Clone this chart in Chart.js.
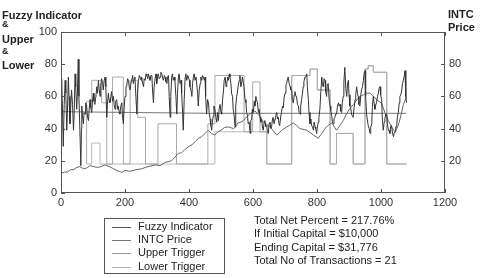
<!DOCTYPE html>
<html>
<head>
<meta charset="utf-8">
<script src="https://cdn.jsdelivr.net/npm/chart.js@4"></script>
<style>
  body { margin: 0; background: #fff; }
  #wrap { position: relative; width: 480px; height: 278px; font-family: "Liberation Sans", Arial, sans-serif; color: #222; }
  #wrap canvas { position: absolute; left: 0; top: 0; }
  .t { position: absolute; font-size: 11px; line-height: 13px; white-space: nowrap; }
  .b { font-weight: bold; }
  .amp { font-size: 9px; line-height: 10px; font-weight: bold; }
  #legend { position: absolute; left: 104px; top: 218px; width: 119px; height: 54px; border: 1px solid #555; }
  .sw { position: absolute; height: 0; width: 19px; border-top: 1px solid #777; }
</style>
</head>
<body>
<div id="wrap">
  <canvas id="c" width="480" height="278"></canvas>
  <div class="t b" style="left:2px;top:9px">Fuzzy Indicator</div>
  <div class="t amp" style="left:2px;top:19px">&amp;</div>
  <div class="t b" style="left:2px;top:33px">Upper</div>
  <div class="t amp" style="left:2px;top:46px">&amp;</div>
  <div class="t b" style="left:2px;top:59px">Lower</div>
  <div class="t b" style="left:448px;top:8px">INTC</div>
  <div class="t b" style="left:448px;top:21px">Price</div>
  <div id="stats"></div>
  <div id="legend"></div>
</div>
<script>
// data (x = day index, y = indicator value)
var fuzzyX = [0,2,4,7,10,13,15,18,20,23,25,28,30,33,36,39,41,44,46,49,51,54,56,59,62,64,65,67,70,72,75,77,80,
  83,86,88,91,93,96,98,101,103,106,109,112,114,117,119,122,124,127,130,132,135,138,140,143,145,148,150,153,156,158,161,164,166,169,171,174,177,179,182,184,187,190,192,195,197,200,
  203,205,208,211,213,216,219,221,224,226,229,231,234,237,239,242,245,247,250,252,255,258,260,263,266,268,271,273,276,278,
  281,284,286,289,291,294,297,299,302,304,307,310,312,315,318,320,323,325,328,331,333,336,338,341,343,346,348,351,354,356,
  359,362,364,367,369,372,375,377,380,382,385,388,390,393,396,398,401,403,406,409,411,414,416,419,422,424,427,429,432,435,
  437,440,442,445,448,450,452,455,458,461,463,466,468,471,473,476,478,481,
  484,487,489,492,494,497,500,502,505,508,510,513,516,518,521,523,526,528,
  531,533,536,538,541,544,546,549,551,554,557,559,562,565,567,570,572,575,578,580,583,585,588,591,593,596,598,601,604,606,
  609,611,614,617,619,622,624,627,630,632,635,637,640,643,645,648,650,653,656,658,661,663,666,669,671,674,677,679,682,684,
  687,689,692,695,697,700,703,705,708,710,713,716,718,
  721,723,726,729,731,734,736,739,742,744,747,749,752,754,757,759,762,765,768,770,773,775,778,781,783,786,789,791,794,796,
  799,801,804,806,809,812,815,817,820,822,825,827,830,832,835,838,841,843,846,848,851,853,856,858,
  861,864,867,869,872,874,877,879,882,884,887,890,893,895,898,900,903,905,908,910,913,916,919,921,924,926,929,931,934,937,
  939,942,945,947,950,952,955,957,960,963,966,968,971,973,976,979,981,984,986,989,992,994,997,999,1002,1004,1007,1010,1012,1015,
  1018,1020,1023,1025,1028,1030,1033,1036,1039,1041,1044,1046,1049,1051,1054,1057,1059,1062,1065,1067,1070,1072,1075,1077,1078,1080];
var fuzzyY = [66,71,58,29,55,70,62,39,50,72,60,43,52,64,55,39,48,74,66,52,60,83,60,39,17,40,54,48,43,50,49,56,54,
  47,45,52,58,53,50,56,62,57,55,60,66,62,70,65,60,67,71,68,64,70,72,66,47,55,62,58,56,60,63,57,60,55,52,57,58,52,54,50,49,54,56,48,43,52,60,
  66,66,71,70,66,64,69,70,73,68,71,72,60,49,62,70,73,72,70,72,68,66,71,70,74,73,71,74,72,70,
  73,73,64,56,66,71,74,68,72,74,71,72,75,74,71,70,73,72,69,68,72,73,60,47,60,72,74,70,72,70,
  60,49,62,72,74,68,70,62,50,39,58,72,74,70,73,72,70,66,64,60,68,72,74,70,72,72,62,54,64,68,
  72,70,73,72,70,72,60,49,58,56,50,46,42,39,44,48,54,52,
  47,44,50,45,52,55,50,49,58,64,70,72,66,68,72,70,74,72,
  68,62,60,52,48,41,54,60,62,67,70,73,66,69,72,68,66,58,56,50,48,43,44,37,45,46,52,50,57,54,
  60,58,56,50,52,47,44,46,40,39,44,45,41,42,38,37,43,44,40,41,46,47,43,46,48,50,46,47,42,43,
  48,50,54,53,59,62,67,68,71,72,68,66,64,
  64,58,56,61,63,60,60,55,54,50,49,54,58,61,66,69,72,72,74,66,58,50,43,46,42,41,39,44,41,40,
  37,41,44,47,52,63,72,67,66,71,70,63,60,67,68,58,54,51,48,44,43,46,47,49,
  49,54,56,54,55,51,50,56,60,69,78,65,60,67,70,61,54,53,49,48,47,53,58,61,66,62,60,55,54,61,
  64,66,70,74,76,60,49,46,42,40,37,41,43,53,60,55,52,55,56,60,62,65,66,61,58,47,39,44,46,49,
  49,43,39,39,37,41,42,37,35,37,38,41,41,47,50,56,60,61,64,68,70,72,76,65,60,56];

var intcX = [0, 10, 20, 30, 40, 50, 59, 70, 80, 90, 100, 110, 120, 137, 150, 160, 175, 190, 200, 215, 235, 252, 265, 275, 294, 310, 325, 335, 345, 355, 367, 377, 387, 400, 410, 419, 430, 440, 450, 460, 470, 481, 490, 500, 512, 523, 540, 553, 562, 570, 584, 595, 606, 620, 628, 637, 648, 658, 674, 690, 705, 715, 726, 736, 747, 768, 789, 804, 815, 825, 835, 846, 861, 872, 882, 892, 903, 914, 924, 935, 945, 955, 966, 977, 987, 1002, 1012, 1023, 1033, 1044, 1054, 1062, 1070, 1080];
var intcY = [12, 13, 13, 14.5, 14.5, 16, 16.4, 15, 15.5, 17, 16.5, 16, 16, 17.4, 16.5, 15.5, 14, 12.8, 14, 13.5, 14.5, 15, 16, 16.5, 17.4, 17, 19, 19.5, 20, 22, 24.6, 25, 27, 29, 30, 32, 34, 35, 37, 39, 37, 36, 38, 39, 40.8, 41, 40, 43.5, 44, 45, 48, 50, 51, 48, 45, 43.5, 42, 40, 36, 39, 41, 42, 43.5, 42, 40, 39, 36, 34, 37, 40, 42, 43.5, 39, 42, 45, 49, 52.6, 55, 57.8, 60, 61, 62, 62, 60, 57.8, 55.7, 50, 45, 41, 38, 42, 48, 55, 60];

var upperX = [80, 80, 96, 127, 143, 161, 195, 216, 240, 264, 303, 361, 459, 481, 572, 599, 622, 643, 721, 778, 801, 841, 861, 913, 950, 960, 976, 1018, 1080];
var upperY = [18, 57, 70, 56, 18, 72, 18, 70, 47, 18, 43, 18, 43, 73, 38, 69, 38, 18, 73, 77, 64, 18, 37, 18, 77, 79, 75, 18, 18];

var lowerX = [80, 96, 122, 481, 643, 721, 778, 801, 841, 861, 913, 950, 960, 976, 1018, 1080];
var lowerY = [18, 31, 18, 38, 18, 73, 77, 64, 18, 37, 18, 77, 79, 75, 18, 18];

var midX = [0, 460, 1080];
var midY = [50.5, 49.5, 49.5];

var xTicks = [0, 200, 400, 600, 800, 1000, 1200];
var leftTicks = [0, 20, 40, 60, 80, 100];
var rightTicks = [20, 40, 60, 80];

var legendNames = ["Fuzzy Indicator", "INTC Price", "Upper Trigger", "Lower Trigger"];
var legendColors = ["#555", "#777", "#999", "#b5b5b5"];
var statLines = ["Total Net Percent = 217.76%", "If Initial Capital = $10,000", "Ending Capital = $31,776", "Total No of Transactions = 21"];

function pts(xs, ys) {
  var out = [];
  for (var i = 0; i < xs.length; i++) out.push({x: xs[i], y: ys[i]});
  return out;
}

var fnt = {family: '"Liberation Sans", Arial, sans-serif', size: 11};

// frame + inward ticks like the original
var frame = {
  id: 'frame',
  afterDraw: function(chart) {
    var ctx = chart.ctx, a = chart.chartArea;
    var sx = chart.scales.x, sy = chart.scales.y, sy2 = chart.scales.y2;
    ctx.save();
    ctx.strokeStyle = '#555';
    ctx.lineWidth = 1;
    ctx.strokeRect(Math.round(a.left) + 0.5, Math.round(a.top) + 0.5, Math.round(a.right - a.left) - 1, Math.round(a.bottom - a.top) - 1);
    ctx.beginPath();
    xTicks.forEach(function(v) {
      var px = Math.round(sx.getPixelForValue(v)) + 0.5;
      ctx.moveTo(px, a.bottom); ctx.lineTo(px, a.bottom - 4);
      ctx.moveTo(px, a.top); ctx.lineTo(px, a.top + 4);
    });
    leftTicks.forEach(function(v) {
      var py = Math.round(sy.getPixelForValue(v)) + 0.5;
      ctx.moveTo(a.left, py); ctx.lineTo(a.left + 4, py);
    });
    rightTicks.forEach(function(v) {
      var py = Math.round(sy2.getPixelForValue(v)) + 0.5;
      ctx.moveTo(a.right, py); ctx.lineTo(a.right - 4, py);
    });
    ctx.stroke();
    ctx.restore();
  }
};

var plain = function(v) { return String(v); };

var chart = new Chart(document.getElementById('c'), {
  type: 'line',
  data: {
    datasets: [
      { label: legendNames[0], data: pts(fuzzyX, fuzzyY), borderColor: '#333', borderWidth: 1, order: 0, yAxisID: 'y' },
      { label: legendNames[1], data: pts(intcX, intcY), borderColor: '#666', borderWidth: 1, order: 1, yAxisID: 'y2' },
      { label: 'mid', data: pts(midX, midY), borderColor: '#777', borderWidth: 1, order: 2, yAxisID: 'y' },
      { label: legendNames[2], data: pts(upperX, upperY), borderColor: '#aaa', borderWidth: 1, stepped: 'before', order: 3, yAxisID: 'y' },
      { label: legendNames[3], data: pts(lowerX, lowerY), borderColor: '#b8b8b8', borderWidth: 1, stepped: 'before', order: 4, yAxisID: 'y' }
    ]
  },
  options: {
    responsive: false,
    animation: false,
    events: [],
    elements: { point: { radius: 0 }, line: { tension: 0 } },
    layout: { padding: { top: 32, left: 0, right: 0, bottom: 0 } },
    plugins: { legend: { display: false }, tooltip: { enabled: false } },
    scales: {
      x: {
        type: 'linear', min: 0, max: 1200,
        afterBuildTicks: function(s) { s.ticks = xTicks.map(function(v) { return {value: v}; }); },
        ticks: { font: fnt, color: '#333', padding: 3, maxRotation: 0, callback: plain },
        grid: { display: false, drawTicks: false },
        border: { display: false },
        afterFit: function(s) { s.height = 85; }
      },
      y: {
        min: 0, max: 100,
        afterBuildTicks: function(s) { s.ticks = leftTicks.map(function(v) { return {value: v}; }); },
        ticks: { font: fnt, color: '#333', padding: 4, callback: plain },
        grid: { display: false, drawTicks: false },
        border: { display: false },
        afterFit: function(s) { s.width = 61; }
      },
      y2: {
        position: 'right', min: 0, max: 100,
        afterBuildTicks: function(s) { s.ticks = rightTicks.map(function(v) { return {value: v}; }); },
        ticks: { font: fnt, color: '#333', padding: 4, callback: plain },
        grid: { display: false, drawTicks: false },
        border: { display: false },
        afterFit: function(s) { s.width = 35; }
      }
    }
  },
  plugins: [frame]
});

// stats block
var stats = document.getElementById('stats');
statLines.forEach(function(s, i) {
  var d = document.createElement('div');
  d.className = 't';
  d.style.left = '254px';
  d.style.top = (214 + i * 13.4) + 'px';
  d.textContent = s;
  stats.appendChild(d);
});

// legend box
var leg = document.getElementById('legend');
legendNames.forEach(function(n, i) {
  var sw = document.createElement('div');
  sw.className = 'sw';
  sw.style.left = '7px';
  sw.style.top = (8 + i * 13.2) + 'px';
  sw.style.borderTopColor = legendColors[i];
  leg.appendChild(sw);
  var d = document.createElement('div');
  d.className = 't';
  d.style.left = '33px';
  d.style.top = (1 + i * 13.2) + 'px';
  d.textContent = n;
  leg.appendChild(d);
});
</script>
</body>
</html>
